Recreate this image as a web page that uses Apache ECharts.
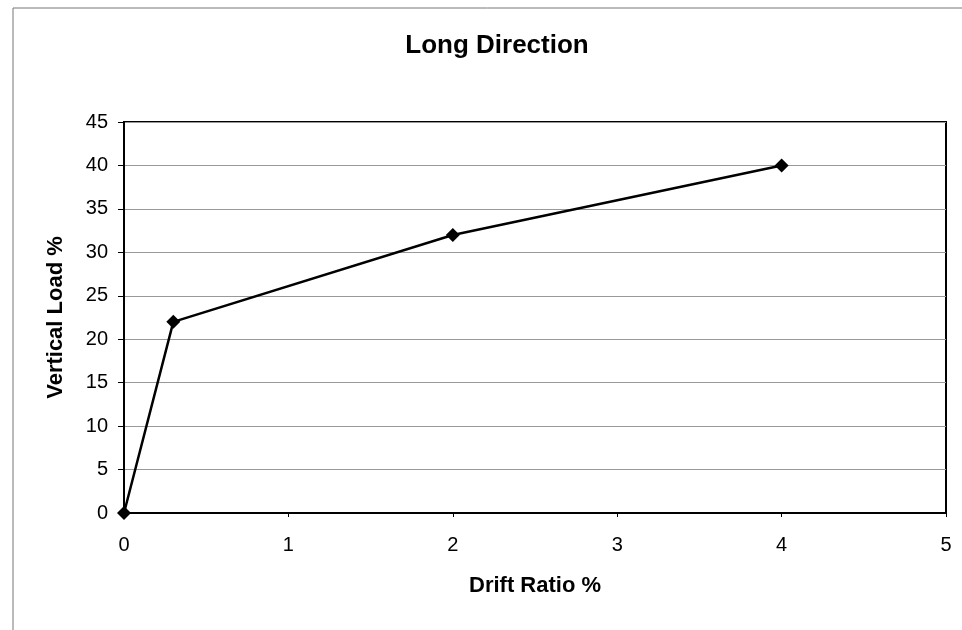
<!DOCTYPE html>
<html>
<head>
<meta charset="utf-8">
<script src="https://cdn.jsdelivr.net/npm/echarts@6/dist/echarts.min.js"></script>
<style>
  html, body { margin: 0; padding: 0; background: #fff; }
  #chart { width: 962px; height: 630px; }
</style>
</head>
<body>
<div id="chart"></div>
<script>
// values
const driftRatio = [0, 0.3, 2, 4];
const verticalLoad = [0, 22, 32, 40];

const points = driftRatio.map((x, i) => [x, verticalLoad[i]]);

const chart = echarts.init(document.getElementById('chart'));

const font = 'Arial, "Liberation Sans", sans-serif';

const option = {
  backgroundColor: '#fff',
  animation: false,
  title: {
    text: 'Long Direction',
    left: 492,
    top: 28,
    textAlign: 'center',
    textStyle: { fontFamily: font, fontSize: 26, fontWeight: 'bold', color: '#000' }
  },
  grid: {
    left: 124,
    right: 16,
    top: 122,
    bottom: 117,
    show: true,
    borderColor: '#000',
    borderWidth: 2
  },
  xAxis: {
    type: 'value',
    min: 0,
    max: 5,
    interval: 1,
    name: 'Drift Ratio %',
    nameLocation: 'middle',
    nameGap: 62,
    nameTextStyle: { fontFamily: font, fontSize: 22, fontWeight: 'bold', color: '#000' },
    axisLine: { show: true, lineStyle: { color: '#000', width: 2 } },
    axisTick: { show: true, length: 4, lineStyle: { color: '#000' } },
    axisLabel: { margin: 22, fontFamily: font, fontSize: 20, color: '#000' },
    splitLine: { show: false }
  },
  yAxis: {
    type: 'value',
    min: 0,
    max: 45,
    interval: 5,
    name: 'Vertical Load %',
    nameLocation: 'middle',
    nameGap: 57,
    nameTextStyle: { fontFamily: font, fontSize: 22, fontWeight: 'bold', color: '#000' },
    axisLine: { show: true, lineStyle: { color: '#000', width: 2 } },
    axisTick: { show: true, length: 6, lineStyle: { color: '#000' } },
    axisLabel: { margin: 16, fontFamily: font, fontSize: 20, color: '#000' },
    splitLine: { show: true, lineStyle: { color: '#999', width: 1 } }
  },
  series: [
    {
      type: 'line',
      data: points,
      symbol: 'diamond',
      symbolSize: 14,
      itemStyle: { color: '#000' },
      lineStyle: { color: '#000', width: 2.5 }
    }
  ],
  // faint frame round the picture (top and left edges only)
  graphic: [
    { type: 'line', shape: { x1: 13, y1: 8, x2: 962, y2: 8 }, style: { stroke: '#777', lineWidth: 1 } },
    { type: 'line', shape: { x1: 13, y1: 8, x2: 13, y2: 630 }, style: { stroke: '#777', lineWidth: 1 } }
  ]
};

chart.setOption(option);
</script>
</body>
</html>
